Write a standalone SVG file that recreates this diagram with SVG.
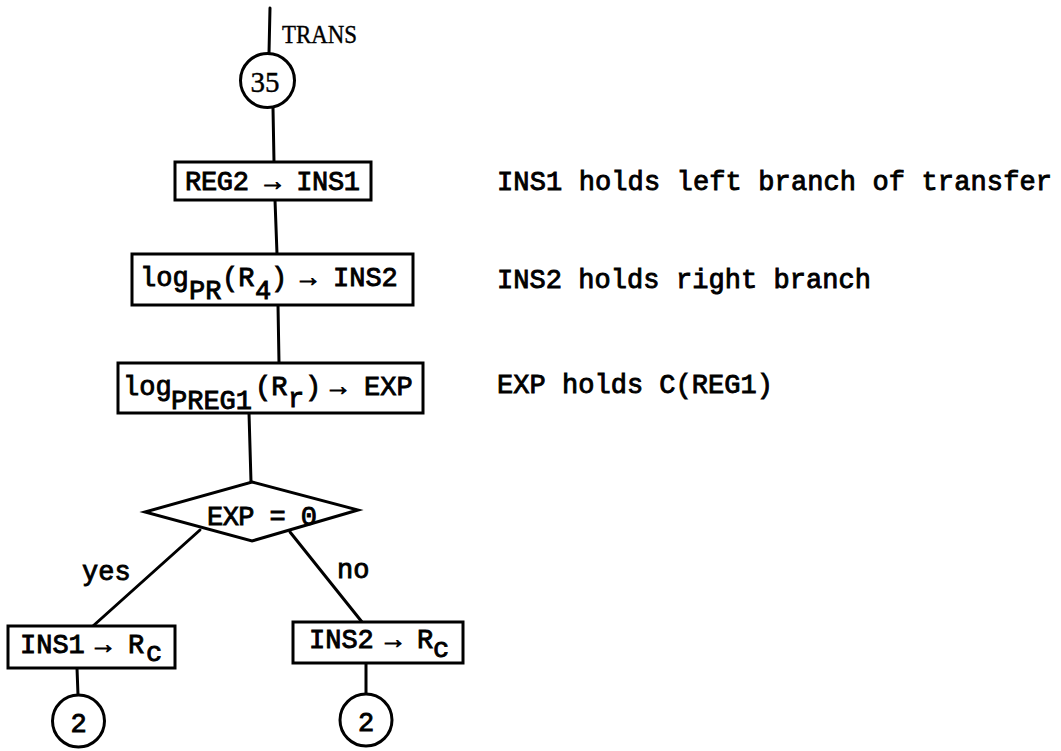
<svg xmlns="http://www.w3.org/2000/svg" width="1061" height="751" viewBox="0 0 1061 751">
<style>
.bg{fill:#fff}
.ln{stroke:#000;stroke-width:3;fill:none;stroke-linecap:round;stroke-linejoin:round}
.bx{stroke:#000;stroke-width:3;fill:#fff}
.tw{font-family:"Liberation Mono","Courier New",monospace;font-size:27px;fill:#000;stroke:#000;stroke-width:0.9}
.sf{font-family:"Liberation Serif","Times New Roman",serif;fill:#000;stroke:#000;stroke-width:0.4}
</style>
<rect class="bg" x="0" y="0" width="1061" height="751"/>
<g id="connectors">
<line class="ln" x1="270" y1="8" x2="269" y2="53"/>
<line class="ln" x1="273" y1="108" x2="274" y2="162"/>
<line class="ln" x1="275" y1="200" x2="277" y2="254"/>
<line class="ln" x1="278" y1="305" x2="279" y2="363"/>
<line class="ln" x1="249" y1="413" x2="251" y2="482"/>
<line class="ln" x1="200" y1="530" x2="93" y2="626"/>
<line class="ln" x1="290" y1="532" x2="362" y2="622"/>
<line class="ln" x1="77" y1="668" x2="78" y2="695"/>
<line class="ln" x1="366" y1="663" x2="366" y2="694"/>
<text class="tw" x="82" y="580">yes</text>
<text class="tw" x="337" y="578">no</text>
</g>
<g id="trans">
<text class="sf" x="282" y="43" font-size="25" textLength="75" lengthAdjust="spacingAndGlyphs">TRANS</text>
</g>
<g id="c35">
<circle class="bx" cx="267.5" cy="80.5" r="27"/>
<text class="sf" x="265" y="92" font-size="29" text-anchor="middle">35</text>
</g>
<g id="box1">
<rect class="bx" x="175" y="162" width="196" height="38"/>
<text class="tw" x="185" y="190" textLength="175">REG2 → INS1</text>
</g>
<g id="box2">
<rect class="bx" x="132" y="254" width="281" height="51"/>
<text class="tw" y="286"><tspan x="140">log</tspan><tspan x="189" y="299">PR</tspan><tspan x="222" y="286">(R</tspan><tspan x="255" y="299">4</tspan><tspan x="271" y="286">)</tspan><tspan x="300">→</tspan><tspan x="333">INS2</tspan></text>
</g>
<g id="box3">
<rect class="bx" x="118" y="363" width="305" height="50"/>
<text class="tw" y="395"><tspan x="123">log</tspan><tspan x="171" y="409">PREG1</tspan><tspan x="255" y="395">(R</tspan><tspan x="288" y="407">r</tspan><tspan x="305" y="395">)</tspan><tspan x="330">→</tspan><tspan x="364">EXP</tspan></text>
</g>
<g id="decision">
<polygon class="bx" points="252,482 358,510 252,541 145,512"/>
<text class="tw" x="207" y="525" textLength="110">EXP = 0</text>
</g>
<g id="boxL">
<rect class="bx" x="8" y="626" width="167" height="42"/>
<text class="tw" y="653"><tspan x="20">INS1</tspan><tspan x="95">→</tspan><tspan x="128">R</tspan><tspan x="146" y="661">c</tspan></text>
</g>
<g id="boxR">
<rect class="bx" x="293" y="622" width="170" height="41"/>
<text class="tw" y="648"><tspan x="309">INS2</tspan><tspan x="385">→</tspan><tspan x="417">R</tspan><tspan x="433" y="657">c</tspan></text>
</g>
<g id="c2L">
<circle class="bx" cx="78.5" cy="721" r="26"/>
<text class="tw" x="78.5" y="732" text-anchor="middle">2</text>
</g>
<g id="c2R">
<circle class="bx" cx="366" cy="720" r="26"/>
<text class="tw" x="366" y="731" text-anchor="middle">2</text>
</g>
<g id="notes">
<text class="tw" x="497" y="190" textLength="555">INS1 holds left branch of transfer</text>
<text class="tw" x="497" y="288" textLength="374">INS2 holds right branch</text>
<text class="tw" x="497" y="393" textLength="276">EXP holds C(REG1)</text>
</g>
</svg>
